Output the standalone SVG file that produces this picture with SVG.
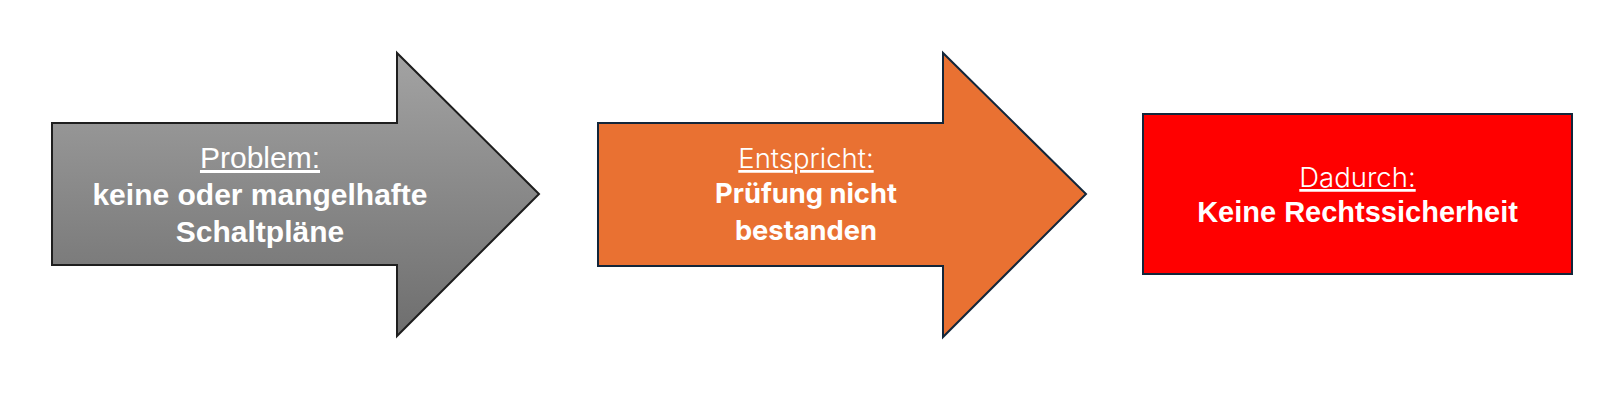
<svg xmlns="http://www.w3.org/2000/svg" width="1600" height="402" viewBox="0 0 1600 402">
<defs>
<linearGradient id="gray" x1="0" y1="0" x2="0" y2="1">
<stop offset="0" stop-color="#a3a3a3"/>
<stop offset="1" stop-color="#6e6e6e"/>
</linearGradient>
</defs>
<style>
.shape{stroke-width:2;stroke-linejoin:miter}
.t{fill:#ffffff;text-anchor:middle}
.arial{font-family:"Liberation Sans",Arial,sans-serif}
.aptos{font-family:Inter,"Noto Sans",sans-serif}
.u{text-decoration:underline}
.light{font-weight:300}
.b{font-weight:bold}
</style>
<rect width="1600" height="402" fill="#ffffff"/>
<g id="problem">
<path class="shape" d="M52,123 H397 V53 L539,194 L397,336 V265 H52 Z" fill="url(#gray)" stroke="#1e1e1e"/>
<text class="t arial u" x="260" y="168" font-size="30">Problem:</text>
<text class="t arial b" x="260" y="205" font-size="30">keine oder mangelhafte</text>
<text class="t arial b" x="260" y="242" font-size="30">Schaltpläne</text>
</g>
<g id="entspricht">
<path class="shape" d="M598,123 H943 V53 L1086,194 L943,337 V266 H598 Z" fill="#e97132" stroke="#13263a"/>
<text class="t aptos u light" x="806" y="168" font-size="27.5">Entspricht:</text>
<text class="t aptos b" x="806" y="203" font-size="27.3">Prüfung nicht</text>
<text class="t aptos b" x="806" y="240" font-size="27.3">bestanden</text>
</g>
<g id="dadurch">
<rect class="shape" x="1143" y="114" width="429" height="160" fill="#ff0000" stroke="#13263a"/>
<text class="t aptos u light" x="1357.5" y="187" font-size="27.5">Dadurch:</text>
<text class="t arial b" x="1357.5" y="222" font-size="29">Keine Rechtssicherheit</text>
</g>
<g id="connectors"/>
</svg>
